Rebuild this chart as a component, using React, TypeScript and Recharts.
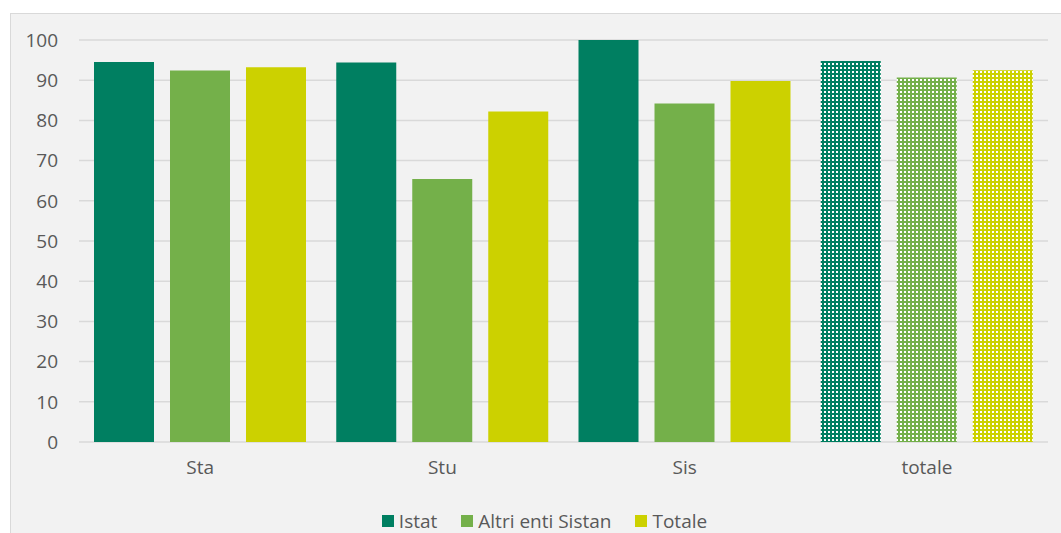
import { Bar, BarChart, CartesianGrid, Cell, Legend, XAxis, YAxis } from "recharts"

const categories = ["Sta", "Stu", "Sis", "totale"]
const istat = [94.5, 94.4, 100, 94.8]
const altriEnti = [92.4, 65.4, 84.2, 90.7]
const totale = [93.2, 82.2, 89.8, 92.5]
const yTicks = [0, 10, 20, 30, 40, 50, 60, 70, 80, 90, 100]

const series = [
  { key: "istat", name: "Istat", color: "#007F61" },
  { key: "altri", name: "Altri enti Sistan", color: "#74B04A" },
  { key: "totale", name: "Totale", color: "#CCD100" },
]

const chartData = categories.map((cat, i) => ({
  cat,
  istat: istat[i],
  altri: altriEnti[i],
  totale: totale[i],
}))

const FONT = "'Open Sans', sans-serif"

function LegendContent() {
  return (
    <div
      style={{
        display: "flex",
        justifyContent: "center",
        alignItems: "center",
        height: 24,
        fontFamily: FONT,
        fontSize: 19,
        color: "#595959",
        paddingLeft: 30,
      }}
    >
      {series.map((s) => (
        <div key={s.key} style={{ display: "flex", alignItems: "center", margin: "0 12px" }}>
          <span style={{ width: 12, height: 12, background: s.color, marginRight: 5, display: "inline-block" }} />
          <span>{s.name}</span>
        </div>
      ))}
    </div>
  )
}

export default function App() {
  return (
    <div style={{ position: "fixed", left: 0, top: 0, width: 1061, height: 533, overflow: "hidden", background: "#fff" }}>
      <svg width={0} height={0} style={{ position: "absolute" }}>
        <defs>
          {series.map((s) => (
            <pattern key={s.key} id={`pat-${s.key}`} patternUnits="userSpaceOnUse" width={4} height={4}>
              <rect width={4} height={4} fill={s.color} />
              <rect x={1} y={1} width={2} height={2} fill="#ffffff" />
            </pattern>
          ))}
        </defs>
      </svg>
      <div
        style={{
          position: "absolute",
          left: 10,
          top: 13,
          width: 1070,
          height: 540,
          background: "#f2f2f2",
          border: "1px solid #d9d9d9",
        }}
      >
        <BarChart
          width={1050}
          height={519}
          data={chartData}
          margin={{ top: 26, right: 13, bottom: 0, left: 0 }}
          barGap={16}
          barCategoryGap={15}
        >
          <CartesianGrid vertical={false} stroke="#d9d9d9" strokeWidth={1.5} />
          <XAxis
            dataKey="cat"
            axisLine={false}
            tickLine={false}
            height={67}
            tickMargin={13}
            tick={{ fill: "#595959", fontSize: 19, fontFamily: FONT }}
          />
          <YAxis
            width={68}
            domain={[0, 100]}
            ticks={yTicks}
            axisLine={false}
            tickLine={false}
            tickMargin={15}
            tick={{ fill: "#595959", fontSize: 19, fontFamily: FONT }}
          />
          <Legend verticalAlign="bottom" content={<LegendContent />} />
          {series.map((s) => (
            <Bar key={s.key} dataKey={s.key} name={s.name} fill={s.color} isAnimationActive={false}>
              {chartData.map((d, i) => (
                <Cell key={d.cat} fill={i === categories.length - 1 ? `url(#pat-${s.key})` : s.color} />
              ))}
            </Bar>
          ))}
        </BarChart>
      </div>
    </div>
  )
}
